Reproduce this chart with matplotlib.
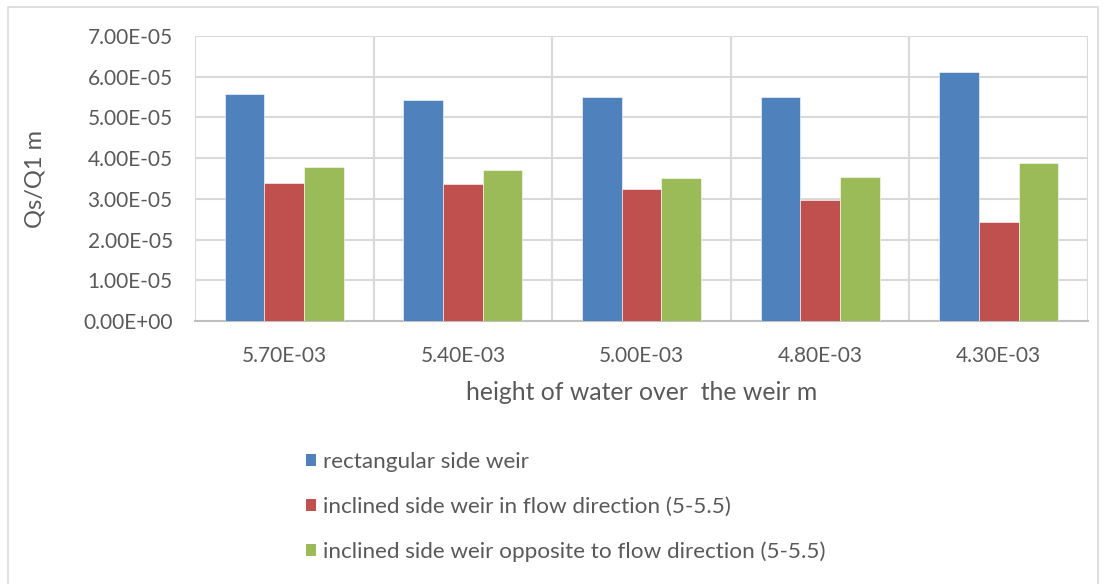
import matplotlib
matplotlib.use("Agg")
import matplotlib.pyplot as plt
import numpy as np
from matplotlib.patches import Rectangle, Patch

plt.rcParams['font.family'] = ['Lato', 'DejaVu Sans']

categories = ['5.70E-03', '5.40E-03', '5.00E-03', '4.80E-03', '4.30E-03']
series_names = [
    'rectangular side weir',
    'inclined side weir in flow direction (5-5.5)',
    'inclined side weir opposite to flow direction (5-5.5)',
]
rect_vals = [5.58e-5, 5.43e-5, 5.50e-5, 5.51e-5, 6.12e-5]
incl_flow_vals = [3.39e-5, 3.37e-5, 3.24e-5, 2.97e-5, 2.42e-5]
incl_opp_vals = [3.79e-5, 3.72e-5, 3.51e-5, 3.54e-5, 3.88e-5]
yticks = [0, 1e-5, 2e-5, 3e-5, 4e-5, 5e-5, 6e-5, 7e-5]
ytick_labels = ['0.00E+00', '1.00E-05', '2.00E-05', '3.00E-05',
                '4.00E-05', '5.00E-05', '6.00E-05', '7.00E-05']

COLORS = ['#4f81bd', '#c0504d', '#9bbb59']
TEXT = '#595959'
GRID = '#d9d9d9'

fig = plt.figure(figsize=(11.07, 5.84), dpi=100)
# light outer frame like the Excel chart area
fig.patches.append(Rectangle((8 / 1107, -0.1), (1098 - 8) / 1107, 1 - 7 / 584 + 0.1,
                             transform=fig.transFigure, fill=False,
                             edgecolor=GRID, linewidth=1.2))

ax = fig.add_axes([195 / 1107, 1 - 321 / 584, (1088 - 195) / 1107, (321 - 36) / 584])

x = np.arange(len(categories))
w = 1 / 4.5
for i, vals in enumerate([rect_vals, incl_flow_vals, incl_opp_vals]):
    ax.bar(x + (i - 1) * w, vals, width=w, color=COLORS[i],
           edgecolor='white', linewidth=0.4, zorder=3)

ax.set_xlim(-0.5, len(categories) - 0.5)
ax.set_ylim(0, 7e-5)
ax.set_yticks(yticks)
ax.set_yticklabels(ytick_labels)
ax.set_xticks(x)
ax.set_xticklabels(categories)
ax.set_xticks(np.arange(len(categories) + 1) - 0.5, minor=True)

ax.grid(axis='y', color=GRID, linewidth=1.5, zorder=0)
ax.grid(axis='x', which='minor', color=GRID, linewidth=1.5, zorder=0)
ax.tick_params(axis='both', which='both', length=0, colors=TEXT, labelsize=15)
ax.tick_params(axis='y', pad=16)
ax.tick_params(axis='x', pad=18)

for s in ['top', 'right', 'left']:
    ax.spines[s].set_visible(False)
ax.spines['bottom'].set_color('#bfbfbf')
ax.spines['bottom'].set_linewidth(1.5)

ax.set_ylabel('Qs/Q1 m', color=TEXT, fontsize=17, va='center')
ax.yaxis.set_label_coords((35 - 195) / 893, 0.5)
ax.set_xlabel('height of water over  the weir m', color=TEXT, fontsize=17.8, va='center')
ax.xaxis.set_label_coords(0.5, (321 - 392) / 285)

handles = [Patch(facecolor=c, edgecolor='none') for c in COLORS]
fig.legend(handles, series_names, loc='upper left',
           bbox_to_anchor=(306 / 1107, 1 - 452 / 584), frameon=False,
           borderpad=0, borderaxespad=0,
           fontsize=16.2, labelcolor=TEXT, handlelength=0.45, handleheight=0.45,
           handletextpad=0.3, labelspacing=1.1)

fig.savefig('out.png', dpi=100)
